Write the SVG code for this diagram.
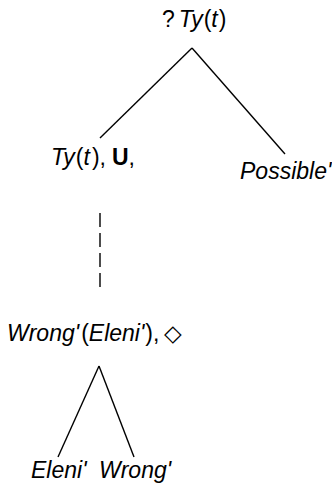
<svg xmlns="http://www.w3.org/2000/svg" width="332" height="484" viewBox="0 0 332 484">
<style>
text{font-family:"Liberation Sans",Arial,sans-serif;font-size:23px;fill:#000}
.i{font-style:italic}
.b{font-weight:bold}
.e{stroke:#000;stroke-width:1.4;fill:none}
.d{stroke-dasharray:14 6}
</style>
<rect width="332" height="484" fill="#fff"/>
<g id="connectors">
<line class="e" x1="192" y1="48" x2="100" y2="138"/>
<line class="e" x1="192" y1="48" x2="285" y2="154"/>
<line class="e d" x1="100" y1="213" x2="100" y2="292"/>
<line class="e" x1="99" y1="366" x2="58" y2="457"/>
<line class="e" x1="99" y1="366" x2="134" y2="457"/>
</g>
<g id="root"><text x="162" y="27">?<tspan class="i" dx="4">Ty</tspan><tspan dx="1">(</tspan><tspan class="i">t</tspan><tspan dx="1">)</tspan></text></g>
<g id="left"><text x="51" y="165"><tspan class="i">Ty</tspan><tspan dx="1">(</tspan><tspan class="i">t</tspan><tspan dx="2">)</tspan>,<tspan class="b" dx="6">U</tspan>,</text></g>
<g id="possible"><text class="i" x="240" y="179">Possible'</text></g>
<g id="wrong-eleni"><text x="7" y="341"><tspan class="i">Wrong'</tspan><tspan dx="2">(</tspan><tspan class="i">Eleni'</tspan><tspan dx="1">)</tspan>,<tspan dx="5">◇</tspan></text></g>
<g id="eleni"><text class="i" x="31" y="478">Eleni'</text></g>
<g id="wrong"><text class="i" x="99" y="478">Wrong'</text></g>
</svg>
